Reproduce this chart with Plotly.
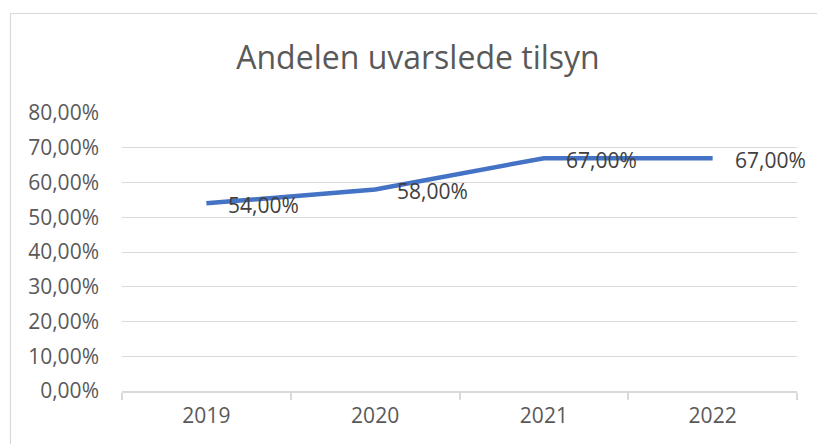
import plotly.graph_objects as go

years = ["2019", "2020", "2021", "2022"]
share = [54.0, 58.0, 67.0, 67.0]
y_ticks = [0, 10, 20, 30, 40, 50, 60, 70, 80]
y_tick_labels = ["0,00%", "10,00%", "20,00%", "30,00%", "40,00%", "50,00%", "60,00%", "70,00%", "80,00%"]
point_labels = ["54,00%", "58,00%", "67,00%", "67,00%"]
title_text = "Andelen uvarslede tilsyn"

FONT = "Open Sans"
GRID = "#d9d9d9"
TXT = "#595959"

fig = go.Figure()
fig.add_trace(go.Scatter(
    x=years, y=share, mode="lines",
    line=dict(color="#4472C4", width=4.5),
    hoverinfo="skip", showlegend=False,
))

annotations = []
for i, (y, t) in enumerate(zip(share, point_labels)):
    annotations.append(dict(
        x=i, y=y, xref="x", yref="y", text=t, showarrow=False,
        xanchor="left", yanchor="middle", xshift=20, yshift=-2,
        font=dict(family=FONT, size=21, color="#404040"),
    ))

fig.update_layout(
    width=817, height=444,
    margin=dict(l=122, r=20, t=113, b=53),
    paper_bgcolor="white", plot_bgcolor="white",
    title=dict(text=title_text, x=418 / 817, xanchor="center",
               y=1 - 58 / 444, yanchor="middle",
               font=dict(family=FONT, size=32, color=TXT)),
    annotations=annotations,
    shapes=[dict(type="rect", xref="paper", yref="paper",
                 x0=(10.5 - 122) / 675, x1=1.2,
                 y0=-0.5, y1=(391 - 13.5) / 278,
                 line=dict(color=GRID, width=1.2), fillcolor="rgba(0,0,0,0)",
                 layer="below")],
    xaxis=dict(
        type="category", range=[-0.5, 3.5],
        showgrid=False, zeroline=False,
        showline=True, linecolor=GRID, linewidth=1.5,
        ticks="outside", tickson="boundaries", ticklen=7, tickcolor=GRID, tickwidth=1.5,
        tickfont=dict(family=FONT, size=21, color=TXT),
        ticklabelstandoff=5,
        fixedrange=True,
    ),
    yaxis=dict(
        range=[0, 80], tickvals=y_ticks, ticktext=y_tick_labels,
        showgrid=True, gridcolor=GRID, gridwidth=1.2,
        zeroline=False, showline=False, ticks="",
        tickfont=dict(family=FONT, size=21, color=TXT),
        ticklabelstandoff=22,
        fixedrange=True,
    ),
)

fig.write_html("out.html", config={"displayModeBar": False},
               post_script="document.body.style.margin='0';")
